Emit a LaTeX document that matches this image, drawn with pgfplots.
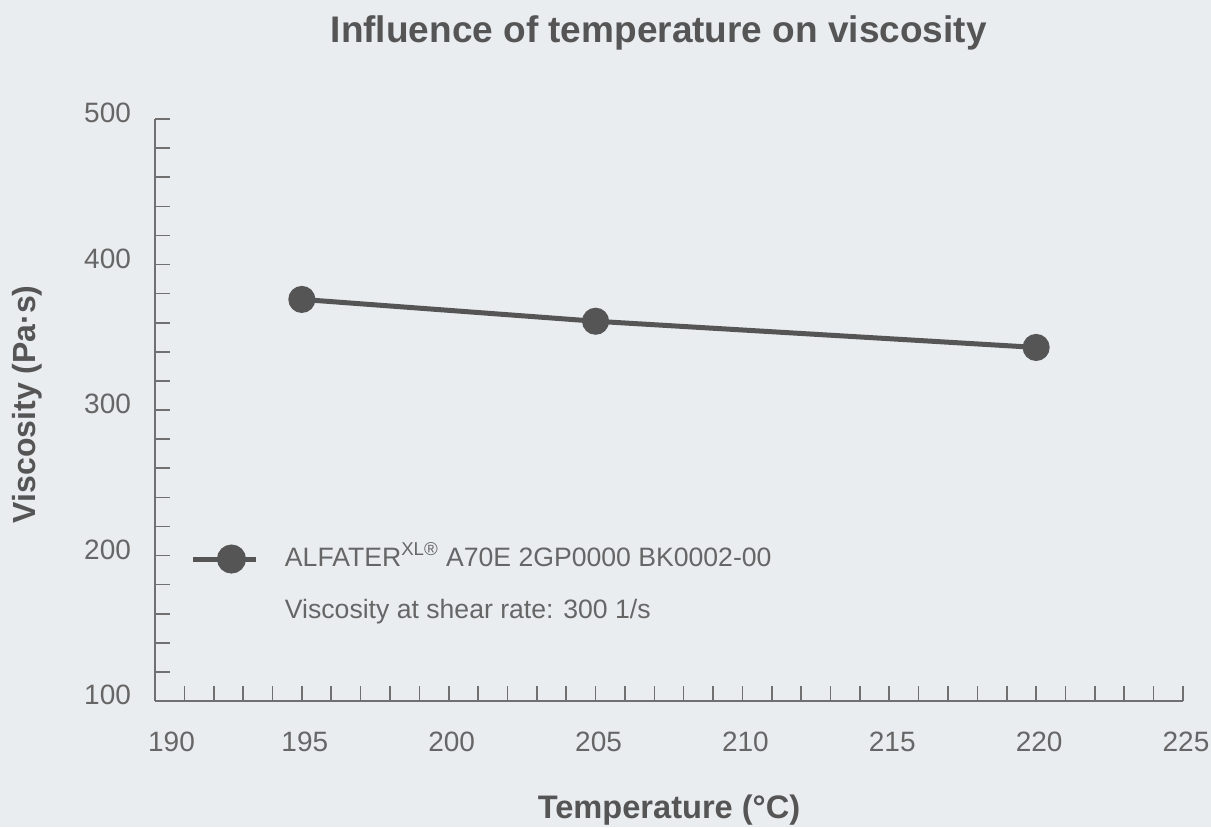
\documentclass[border=0pt]{standalone}
\usepackage{fontspec}
\setmainfont{Liberation Sans}
\usepackage{pgfplots}
\pgfplotsset{compat=1.18}
\definecolor{bg}{HTML}{E9EDF0}
\definecolor{ink}{HTML}{555555}
\definecolor{tickc}{HTML}{666666}
\definecolor{axc}{HTML}{707070}
\begin{document}
\begin{tikzpicture}
\fill[bg] (-77.5pt,-63pt) rectangle (528pt,350.5pt);
\path[use as bounding box] (-77.5pt,-63pt) rectangle (528pt,350.5pt);
\begin{axis}[
  at={(0pt,0pt)}, anchor=south west,
  scale only axis, width=514pt, height=291pt,
  xmin=190, xmax=225, ymin=100, ymax=500,
  axis x line*=bottom, axis y line*=left,
  axis line style={axc, line width=0.8pt, -},
  xtick={190,195,...,225}, ytick={100,200,...,500},
  xticklabels={\hspace*{13.5pt}190,195,200,205,210,215,220,225},
  minor x tick num=4, minor y tick num=4,
  tick align=inside, major tick length=7.5pt, minor tick length=7.5pt,
  every tick/.style={axc, line width=0.8pt},
  minor tick style={axc, line width=0.8pt},
  ticklabel style={font=\fontsize{14}{14}\selectfont, text=tickc},
  /pgf/number format/assume math mode=true,
  /pgf/number format/1000 sep={},
  xticklabel style={yshift=-12pt, xshift=1.5pt},
  yticklabel style={xshift=-8.5pt, yshift=3pt},
  title={Influence of temperature on viscosity},
  title style={at={(axis description cs:0.49,1.139)}, anchor=center, yshift=-3.5pt, font=\bfseries\fontsize{18.5}{18.5}\selectfont, text=ink},
  xlabel={Temperature (°C)},
  xlabel style={at={(axis description cs:0.5,-0.188)}, anchor=center, font=\bfseries\fontsize{16.3}{16.3}\selectfont, text=ink},
  ylabel={Viscosity (Pa·s)},
  ylabel style={at={(axis description cs:-0.1245,0.51)}, anchor=center, font=\bfseries\fontsize{16}{16}\selectfont, text=ink},
  legend style={draw=none, fill=none, inner sep=0pt, outer sep=0pt, at={(axis description cs:0.035,0.201)}, anchor=west,
    font=\fontsize{13.3}{13.3}\selectfont, text=tickc, row sep=13pt,
    nodes={inner sep=0pt, text height=9.5pt, text depth=2.5pt}},
  legend cell align=left,
  legend image code/.code={\draw[ink, line width=2.5pt] (0pt,0pt) -- (31.5pt,0pt); \fill[ink] (19pt,0pt) circle (6pt); \path (44.5pt,0pt);},
]
\addplot[color=ink, line width=2.5pt, mark=*, mark size=5.5pt, mark options={solid, draw=none, fill=ink}]
  coordinates {(195,376) (205,361) (220,343)};
\addlegendentry{ALFATER\textsuperscript{XL®} A70E 2GP0000 BK0002-00}
\addlegendimage{empty legend}
\addlegendentry{Viscosity at shear rate: 300 1/s}
\end{axis}
\end{tikzpicture}
\end{document}
